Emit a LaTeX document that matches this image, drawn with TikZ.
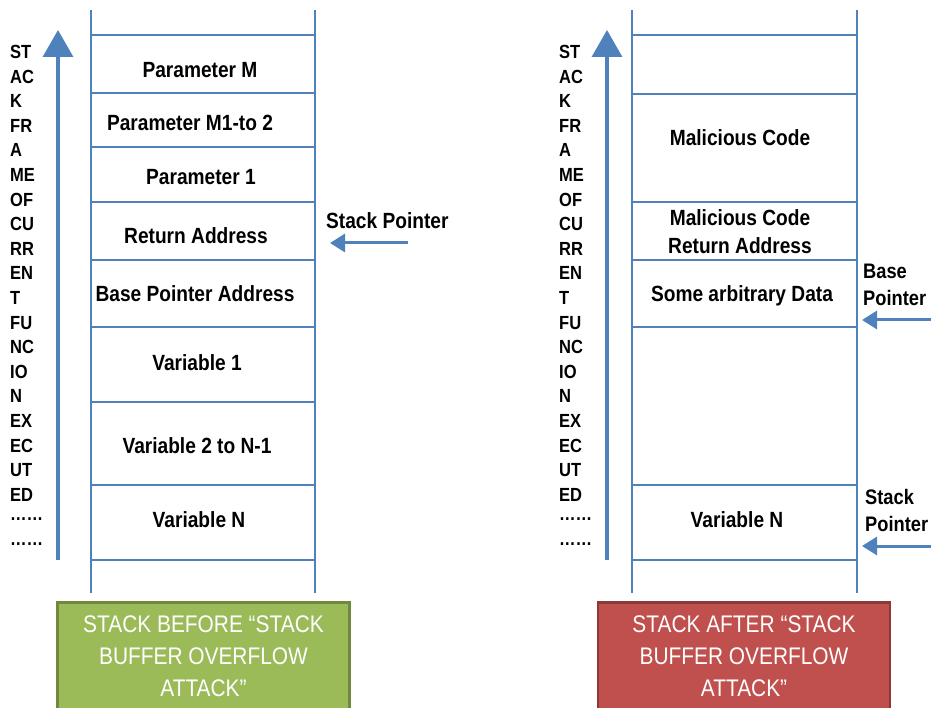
\documentclass[tikz,border=0pt]{standalone}
\usepackage{fontspec}
\setmainfont{Liberation Sans}[FakeStretch=0.87]
\usetikzlibrary{arrows.meta, positioning}

\definecolor{stackblue}{HTML}{4F81BD}
\definecolor{oldgreen}{HTML}{9BBB59}
\definecolor{oldgreenline}{HTML}{71893F}
\definecolor{attackred}{HTML}{C0504D}
\definecolor{attackredline}{HTML}{8C3836}

\tikzset{
  wall/.style={stackblue, line width=1.8pt},
  cell/.style={font=\fontsize{22}{28}\selectfont\bfseries, align=center, inner sep=0pt},
  side/.style={font=\fontsize{19}{22}\selectfont\bfseries, anchor=west, inner sep=0pt},
  growarrow/.style={stackblue, line width=3.5pt, -{Triangle[width=30pt,length=27pt]}},
  ptr/.style={stackblue, line width=3pt, -{Triangle[width=18pt,length=15pt]}},
  caption/.style={font=\fontsize{24}{32}\selectfont, text=white, align=center,
    line width=2.5pt, minimum width=292pt, minimum height=108pt, anchor=north},
  ptrlabel/.style={font=\fontsize{22}{27}\selectfont\bfseries, align=left, inner sep=0pt, anchor=west}
}

\begin{document}
\begin{tikzpicture}[x=1pt, y=-1pt]
    \useasboundingbox (0,0) rectangle (931,708);

    % Stack before the attack
    \draw[wall] (91,10) -- (91,593);
    \draw[wall] (315,10) -- (315,593);
    \foreach \y in {35,93,147,202,260,327,402,485,560}
        \draw[wall] (91,\y) -- (315,\y);

    \node[cell] (paramM) at (200,70) {Parameter M};
    \node[cell] (paramMone) at (190,123) {Parameter M1-to 2};
    \node[cell] (paramone) at (201,177) {Parameter 1};
    \node[cell] (retaddr) at (196,236) {Return Address};
    \node[cell] (baseaddr) at (195,294) {Base Pointer Address};
    \node[cell] (varone) at (197,363) {Variable 1};
    \node[cell] (vartwo) at (197,446) {Variable 2 to N-1};
    \node[cell] (varN) at (199,520) {Variable N};

    % Growth direction
    \coordinate (lgrow-tail) at (58,560);
    \coordinate (lgrow-tip) at (58,30);
    \draw[growarrow] (lgrow-tail) -- (lgrow-tip);
    \foreach \t [count=\i from 0] in {ST,AC,K,FR,A,ME,OF,CU,RR,EN,T,FU,NC,IO,N,EX,EC,UT,ED,……,……}
        \node[side] (lside-\i) at (10,{52+24.6*\i}) {\t};

    % Stack pointer
    \node[ptrlabel] (splabel) at (326,221) {Stack Pointer};
    \coordinate (sp-tail) at (408,243);
    \coordinate (sp-tip) at (330,243);
    \draw[ptr] (sp-tail) -- (sp-tip);

    % Caption
    \node[caption, fill=oldgreen, draw=oldgreenline] (before) at (203.5,601)
        {STACK BEFORE “STACK\\BUFFER OVERFLOW\\ATTACK”};

    % Stack after the attack
    \draw[wall] (632,10) -- (632,593);
    \draw[wall] (857,10) -- (857,593);
    \foreach \y in {35,94,202,260,327,485,560}
        \draw[wall] (632,\y) -- (857,\y);

    \node[cell] (malcode) at (740,138) {Malicious Code};
    \node[cell] (malret) at (740,232) {Malicious Code\\Return Address};
    \node[cell] (arbdata) at (742,296) {Some arbitrary Data};
    \node[cell] (avarN) at (737,520) {Variable N};

    \coordinate (rgrow-tail) at (607,560);
    \coordinate (rgrow-tip) at (607,30);
    \draw[growarrow] (rgrow-tail) -- (rgrow-tip);
    \foreach \t [count=\i from 0] in {ST,AC,K,FR,A,ME,OF,CU,RR,EN,T,FU,NC,IO,N,EX,EC,UT,ED,……,……}
        \node[side] (rside-\i) at (559,{52+24.6*\i}) {\t};

    % Pointers after the attack
    \node[ptrlabel, font=\fontsize{21}{27}\selectfont\bfseries] (bplabel) at (863,285) {Base\\Pointer};
    \coordinate (bp-tail) at (931,320);
    \coordinate (bp-tip) at (862,320);
    \draw[ptr] (bp-tail) -- (bp-tip);

    \node[ptrlabel, font=\fontsize{21}{27}\selectfont\bfseries] (asplabel) at (865,510) {Stack\\Pointer};
    \coordinate (asp-tail) at (931,546);
    \coordinate (asp-tip) at (862,546);
    \draw[ptr] (asp-tail) -- (asp-tip);

    \node[caption, fill=attackred, draw=attackredline] (after) at (744,601)
        {STACK AFTER “STACK\\BUFFER OVERFLOW\\ATTACK”};
\end{tikzpicture}
\end{document}
